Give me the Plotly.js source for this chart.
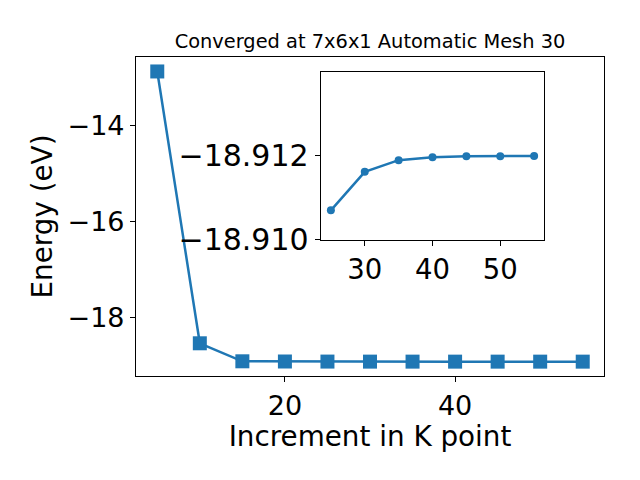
<!DOCTYPE html>
<html>
<head>
<meta charset="utf-8">
<script src="https://cdn.plot.ly/plotly-3.0.1.min.js"></script>
<style>html,body{margin:0;padding:0;background:#fff;}#chart{width:640px;height:480px;}</style>
</head>
<body>
<div id="chart"></div>
<script>
// Main series: increment in K point vs total energy (eV)
const kIncrement = [5, 10, 15, 20, 25, 30, 35, 40, 45, 50, 55];
const energyMain = [-12.87, -18.53, -18.905, -18.909, -18.91069, -18.91161, -18.91189, -18.91196, -18.91198, -18.91198, -18.91199];
// Inset (zoom on the converged region)
const kInset = [25, 30, 35, 40, 45, 50, 55];
const energyInset = [-18.91069, -18.91161, -18.91189, -18.91196, -18.91198, -18.91198, -18.91199];
const insetTicks = [-18.912, -18.910];
const titleText = "Converged at 7x6x1 Automatic Mesh 30";

const blue = '#1f77b4';
const font = 'DejaVu Sans, sans-serif';

const data = [
  {x: kIncrement, y: energyMain, type: 'scatter', mode: 'lines+markers',
   line: {color: blue, width: 2.5}, marker: {symbol: 'square', size: 14, color: blue},
   xaxis: 'x', yaxis: 'y', hoverinfo: 'none'},
  {x: kInset, y: energyInset, type: 'scatter', mode: 'lines+markers',
   line: {color: blue, width: 2.5}, marker: {symbol: 'circle', size: 8, color: blue},
   xaxis: 'x2', yaxis: 'y2', hoverinfo: 'none'}
];

const axBase = {showgrid: false, zeroline: false, showline: true, linecolor: '#000', linewidth: 1.1,
  mirror: true, ticks: 'outside', ticklen: 5, tickwidth: 1.1, tickcolor: '#000'};

const layout = {
  width: 640, height: 480,
  margin: {l: 136, r: 36, t: 57, b: 104},
  paper_bgcolor: '#fff', plot_bgcolor: '#fff',
  showlegend: false,
  font: {family: font, color: '#000'},
  title: {text: titleText, font: {size: 19.4, family: font, color: '#000'},
          x: 0.5, xanchor: 'center', xref: 'paper', y: 0.915, yanchor: 'middle'},
  xaxis: Object.assign({}, axBase, {range: [2.5, 57.5], dtick: 20, tick0: 0,
    tickfont: {size: 27, family: font},
    title: {text: 'Increment in K point', font: {size: 27.8, family: font}, standoff: 1}}),
  yaxis: Object.assign({}, axBase, {range: [-19.211, -12.569], dtick: 2, tick0: 0,
    tickfont: {size: 27, family: font},
    title: {text: 'Energy (eV)', font: {size: 27.8, family: font}, standoff: 6}}),
  xaxis2: Object.assign({}, axBase, {domain: [0.3947, 0.8724], anchor: 'y2', range: [23.5, 56.5],
    dtick: 10, tick0: 0, tickfont: {size: 27.5, family: font}}),
  yaxis2: Object.assign({}, axBase, {domain: [0.4263, 0.952], anchor: 'x2',
    range: [-18.90998, -18.91399], tickmode: 'array', tickvals: insetTicks, tickformat: '.3f',
    tickfont: {size: 30, family: font}})
};

Plotly.newPlot('chart', data, layout, {staticPlot: true, displayModeBar: false});
</script>
</body>
</html>
